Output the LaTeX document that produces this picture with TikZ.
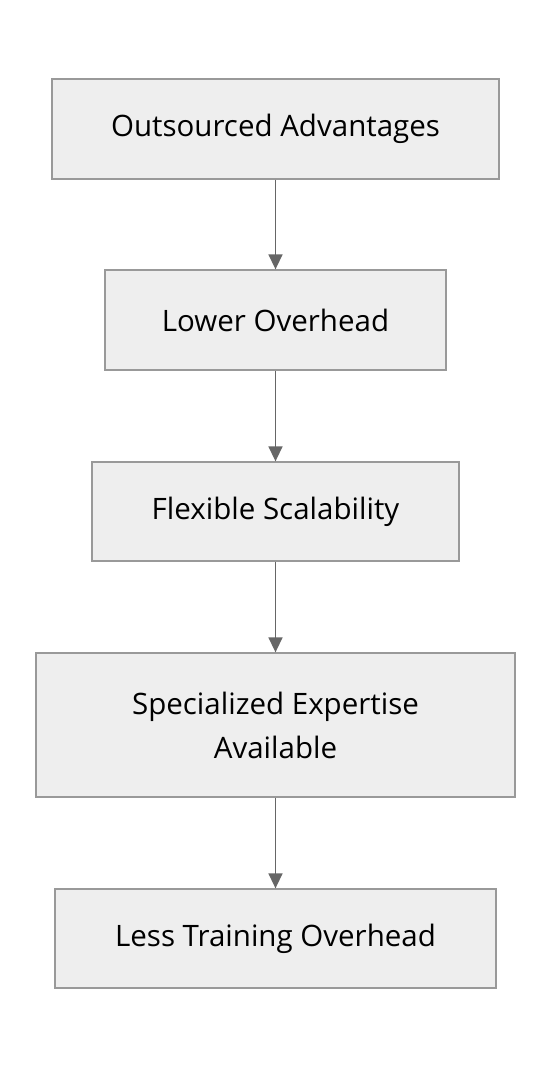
\documentclass[tikz,border=0pt]{standalone}
\usepackage{fontspec}
\setmainfont{Open Sans}
\usetikzlibrary{arrows.meta}
\definecolor{boxfill}{HTML}{EEEEEE}
\definecolor{boxdraw}{HTML}{999999}
\definecolor{linkc}{HTML}{666666}
\tikzset{
  box/.style={draw=boxdraw, fill=boxfill, line width=1.3pt, rectangle, align=center,
    font=\fontsize{29.5}{44}\selectfont, inner sep=0pt},
  link/.style={draw=linkc, line width=1.5pt, -{Triangle[length=15pt,width=14pt]}}
}
\begin{document}
\begin{tikzpicture}[x=1pt,y=-1pt]
\useasboundingbox (0,0) rectangle (552,1068);
\node[box, minimum width=447pt, minimum height=100pt] (a) at (275.5,129) {Outsourced Advantages};
\node[box, minimum width=341pt, minimum height=100pt] (b) at (275.5,320) {Lower Overhead};
\node[box, minimum width=367pt, minimum height=99pt] (c) at (275.5,511.5) {Flexible Scalability};
\node[box, minimum width=479pt, minimum height=144pt] (d) at (275.5,725) {Specialized Expertise\\Available};
\node[box, minimum width=441pt, minimum height=99pt] (e) at (275.5,938.5) {Less Training Overhead};
\draw[link] (a) -- (b);
\draw[link] (b) -- (c);
\draw[link] (c) -- (d);
\draw[link] (d) -- (e);
\end{tikzpicture}
\end{document}
